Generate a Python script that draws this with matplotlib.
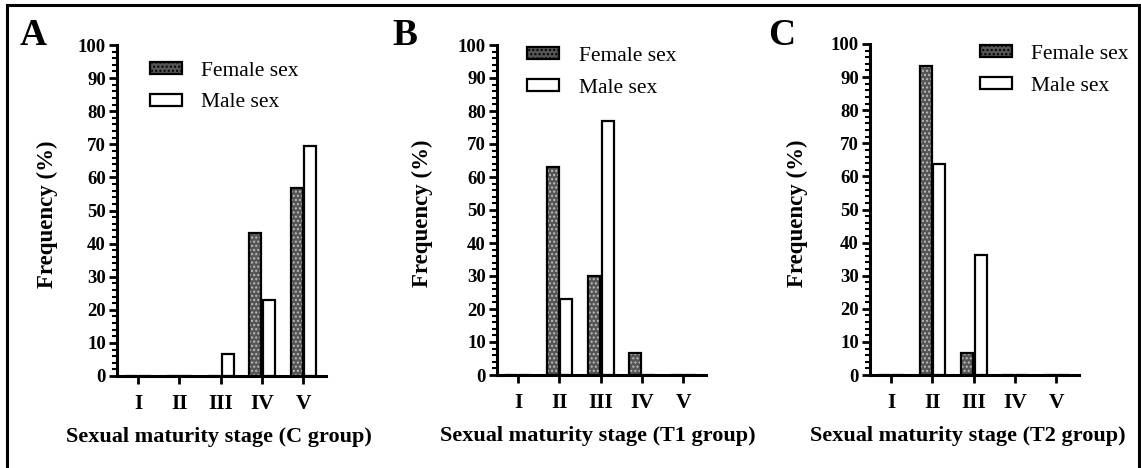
import numpy as np
import matplotlib.pyplot as plt
from matplotlib.patches import Patch
from matplotlib.lines import Line2D
from matplotlib.ticker import MultipleLocator

plt.rcParams['font.family'] = ['Liberation Serif', 'DejaVu Serif']

stages = ['I', 'II', 'III', 'IV', 'V']
groups = ['C group', 'T1 group', 'T2 group']
letters = ['A', 'B', 'C']

female_c = [0, 0, 0, 43.3, 56.7]
male_c = [0, 0, 6.6, 23.1, 69.4]
female_t1 = [0, 63.0, 30.0, 6.7, 0]
male_t1 = [0, 23.1, 76.9, 0, 0]
female_t2 = [0, 93.3, 6.7, 0, 0]
male_t2 = [0, 63.6, 36.4, 0, 0]

females = [female_c, female_t1, female_t2]
males = [male_c, male_t1, male_t2]

W, H = 1141, 468
fig = plt.figure(figsize=(W / 100, H / 100), dpi=100)

# axes boxes in pixels: left, y of value 0, y of value 100
boxes = [(117, 376, 45), (497, 375, 45), (870, 375, 44)]
ax_w = 209
legend_x = [0.157, 0.144, 0.524]
legend_y = [0.950, 0.995, 0.998]
ylab_x = [-70, -75, -73]
xlab_x = [0.49, 0.48, 0.47]
letter_x = [20, 392, 768]

x = np.arange(len(stages))
bw = 0.29
off_f = -0.16
off_m = 0.17
fill_gray = '#555555'
dot_col = '#bdbdbd'

for i in range(3):
    left, y0, y100 = boxes[i]
    ax = fig.add_axes([left / W, (H - y0) / H, ax_w / W, (y0 - y100) / H])

    # female: gray dotted fill, then black outline
    ax.bar(x + off_f, females[i], bw, color=fill_gray, edgecolor=dot_col,
           hatch='....', linewidth=0, zorder=2)
    ax.bar(x + off_f, females[i], bw, fill=False, edgecolor='black',
           linewidth=1.6, zorder=3)
    ax.bar(x + off_m, males[i], bw, color='white', edgecolor='black',
           linewidth=1.6, zorder=3)

    ax.set_xlim(-0.51, 4.55)
    ax.set_ylim(0, 100)
    ax.spines['top'].set_visible(False)
    ax.spines['right'].set_visible(False)
    ax.spines['left'].set_linewidth(2.2)
    ax.spines['bottom'].set_linewidth(2.2)
    ax.spines['left'].set_zorder(4)
    ax.spines['bottom'].set_zorder(4)

    ax.set_xticks(x)
    ax.set_xticklabels(stages)
    ax.yaxis.set_major_locator(MultipleLocator(10))
    ax.yaxis.set_minor_locator(MultipleLocator(2))
    ax.tick_params(axis='y', which='major', length=6, width=2, pad=2,
                   labelsize=13.5)
    ax.tick_params(axis='y', which='minor', length=3.5, width=1.5)
    ax.tick_params(axis='x', length=6, width=2, pad=7, labelsize=15.5)
    for lab in ax.get_xticklabels() + ax.get_yticklabels():
        lab.set_fontweight('bold')

    ax.set_ylabel('Frequency (%)', fontsize=16.5, fontweight='bold',
                  va='center')
    ax.yaxis.set_label_coords(ylab_x[i] / ax_w, 0.49)
    ax.set_xlabel('Sexual maturity stage (%s)' % groups[i], fontsize=16,
                  fontweight='bold')
    ax.xaxis.set_label_coords(xlab_x[i], -61 / (y0 - y100), ax.transAxes)
    ax.xaxis.label.set_verticalalignment('center')

    handles = [Patch(facecolor=fill_gray, edgecolor='black', hatch='....',
                     linewidth=1.6),
               Patch(facecolor='white', edgecolor='black', linewidth=1.6)]
    ax.legend(handles, ['Female sex', 'Male sex'], loc='upper left',
              bbox_to_anchor=(legend_x[i], legend_y[i]), frameon=False,
              fontsize=15.5, handlelength=1.5, handleheight=0.45,
              handletextpad=0.9, labelspacing=0.6, borderpad=0,
              borderaxespad=0)

    fig.text(letter_x[i] / W, (H - 45) / H, letters[i], fontsize=27,
             fontweight='bold', ha='left', va='baseline')

# outer frame (open at the bottom, as in the reference)
lw = 2.2
fig.add_artist(Line2D([7 / W, 7 / W], [0, (H - 5) / H], color='black', lw=lw))
fig.add_artist(Line2D([7 / W, 1139 / W], [(H - 5) / H, (H - 5) / H],
                      color='black', lw=lw))
fig.add_artist(Line2D([1139 / W, 1139 / W], [0, (H - 5) / H], color='black',
                      lw=lw))

fig.savefig('out.png', dpi=100)
